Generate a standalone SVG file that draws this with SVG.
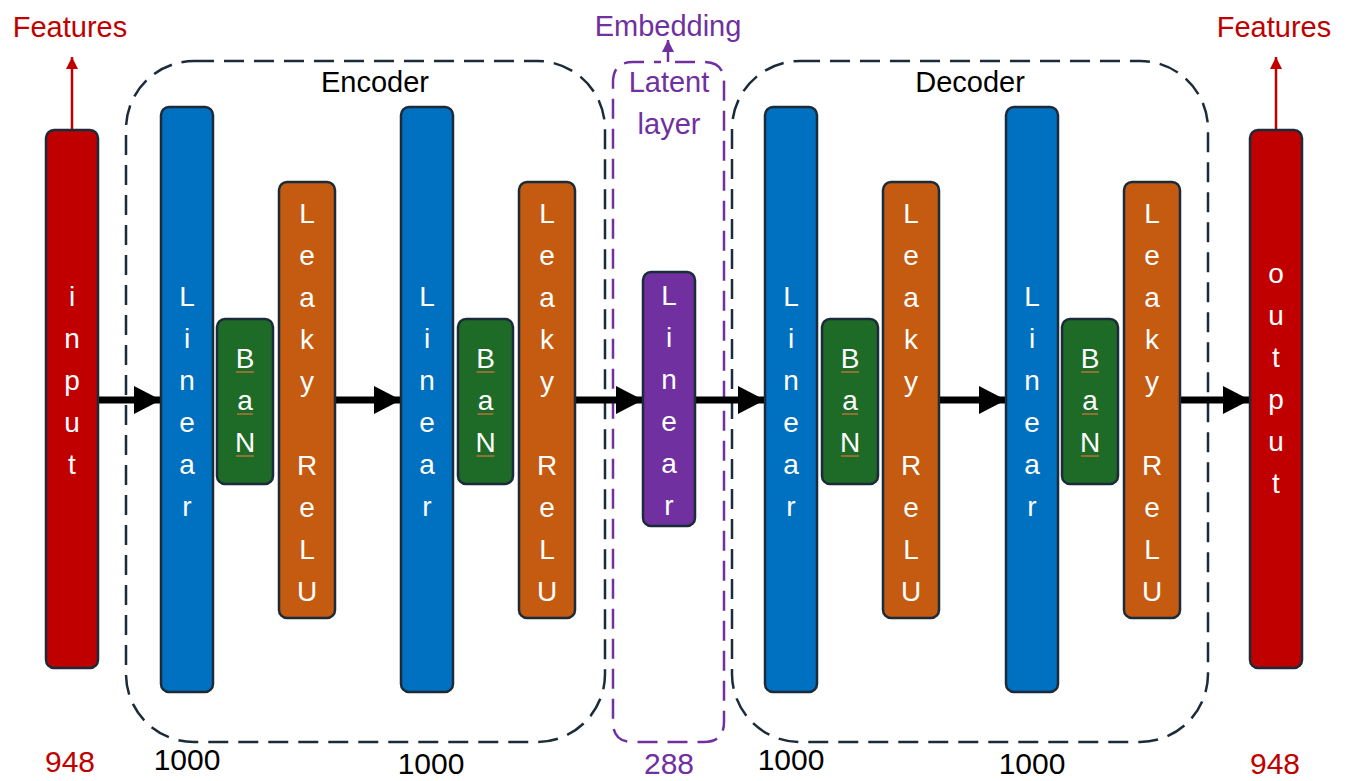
<svg xmlns="http://www.w3.org/2000/svg" width="1348" height="781" viewBox="0 0 1348 781">
<style>
text{font-family:"Liberation Sans",Arial,sans-serif;}
.n{stroke:#1b2b3a;stroke-width:2.5;}
.red{fill:#C00000}.blue{fill:#0070C0}.green{fill:#1E6B28}.orange{fill:#C55A11}.purple{fill:#7030A0}
.v{fill:#fff;font-size:28px;text-anchor:middle}
.lbl{font-size:29px;text-anchor:middle}
.num{font-size:30px;text-anchor:middle}
.grp{fill:none;stroke:#1b2b3a;stroke-width:2.5;stroke-dasharray:20 10}
.ul{stroke:#b8733a;stroke-width:1.5}
.arr{stroke:#000;stroke-width:7;fill:none}
</style>
<defs>
<marker id="ah" markerUnits="userSpaceOnUse" markerWidth="28" markerHeight="28" refX="27" refY="14" orient="auto"><path d="M0,0 L27,14 L0,28 Z" fill="#000"/></marker>
<marker id="ahr" markerUnits="userSpaceOnUse" markerWidth="12" markerHeight="12" refX="12" refY="6" orient="auto"><path d="M0,0 L12,6 L0,12 Z" fill="#C00000"/></marker>
<marker id="ahp" markerUnits="userSpaceOnUse" markerWidth="12" markerHeight="12" refX="12" refY="6" orient="auto"><path d="M0,0 L12,6 L0,12 Z" fill="#7030A0"/></marker>
</defs>

<g id="groups">
<rect id="encoder-box" class="grp" x="126" y="61" width="479" height="681" rx="68"/>
<rect id="decoder-box" class="grp" x="732" y="61" width="476" height="681" rx="68"/>
<path id="latent-box" d="M675,62 L704,62 Q724,62 724,82 L724,722 Q724,742 704,742 L633,742 Q613,742 613,722 L613,82 Q613,62 633,62 L661,62" fill="none" stroke="#7030A0" stroke-width="2.5" stroke-dasharray="20 10"/>
<text x="375" y="92" class="lbl" fill="#000">Encoder</text>
<text x="970" y="92" class="lbl" fill="#000">Decoder</text>
<text x="669" y="92" class="lbl" fill="#7030A0">Latent</text>
<text x="669" y="134" class="lbl" fill="#7030A0">layer</text>
</g>

<g id="connectors">
<line class="arr" x1="98" y1="400" x2="161" y2="400" marker-end="url(#ah)"/>
<line class="arr" x1="335" y1="400" x2="401" y2="400" marker-end="url(#ah)"/>
<line class="arr" x1="575" y1="400" x2="643" y2="400" marker-end="url(#ah)"/>
<line class="arr" x1="695" y1="400" x2="765" y2="400" marker-end="url(#ah)"/>
<line class="arr" x1="939" y1="400" x2="1006" y2="400" marker-end="url(#ah)"/>
<line class="arr" x1="1180" y1="400" x2="1250" y2="400" marker-end="url(#ah)"/>
<line x1="72" y1="130" x2="72" y2="57" stroke="#C00000" stroke-width="2.5" marker-end="url(#ahr)"/>
<line x1="1276" y1="130" x2="1276" y2="57" stroke="#C00000" stroke-width="2.5" marker-end="url(#ahr)"/>
<line x1="668" y1="62" x2="668" y2="40" stroke="#7030A0" stroke-width="2.5" marker-end="url(#ahp)"/>
</g>

<g id="input">
<rect class="n red" x="46" y="130" width="52" height="538" rx="8"/>
<text class="v"><tspan x="72" y="306">i</tspan><tspan x="72" y="348">n</tspan><tspan x="72" y="390">p</tspan><tspan x="72" y="432">u</tspan><tspan x="72" y="474">t</tspan></text>
</g>

<g id="enc-linear1">
<rect class="n blue" x="161" y="107" width="52" height="585" rx="8"/>
<text class="v"><tspan x="187" y="306">L</tspan><tspan x="187" y="348">i</tspan><tspan x="187" y="390">n</tspan><tspan x="187" y="432">e</tspan><tspan x="187" y="474">a</tspan><tspan x="187" y="516">r</tspan></text>
</g>
<g id="enc-ban1">
<rect class="n green" x="217" y="319" width="56" height="165" rx="8"/>
<text class="v"><tspan x="245" y="368">B</tspan><tspan x="245" y="410">a</tspan><tspan x="245" y="452">N</tspan></text>
<path class="ul" d="M236,372h18M237,414h16M236,456h18"/>
</g>
<g id="enc-relu1">
<rect class="n orange" x="279" y="182" width="56" height="436" rx="8"/>
<text class="v"><tspan x="307" y="223">L</tspan><tspan x="307" y="265">e</tspan><tspan x="307" y="307">a</tspan><tspan x="307" y="349">k</tspan><tspan x="307" y="391">y</tspan><tspan x="307" y="475">R</tspan><tspan x="307" y="517">e</tspan><tspan x="307" y="559">L</tspan><tspan x="307" y="601">U</tspan></text>
</g>

<g id="enc-linear2">
<rect class="n blue" x="401" y="107" width="52" height="585" rx="8"/>
<text class="v"><tspan x="427" y="306">L</tspan><tspan x="427" y="348">i</tspan><tspan x="427" y="390">n</tspan><tspan x="427" y="432">e</tspan><tspan x="427" y="474">a</tspan><tspan x="427" y="516">r</tspan></text>
</g>
<g id="enc-ban2">
<rect class="n green" x="458" y="319" width="55" height="165" rx="8"/>
<text class="v"><tspan x="485.5" y="368">B</tspan><tspan x="485.5" y="410">a</tspan><tspan x="485.5" y="452">N</tspan></text>
<path class="ul" d="M476.5,372h18M477.5,414h16M476.5,456h18"/>
</g>
<g id="enc-relu2">
<rect class="n orange" x="519" y="182" width="56" height="436" rx="8"/>
<text class="v"><tspan x="547" y="223">L</tspan><tspan x="547" y="265">e</tspan><tspan x="547" y="307">a</tspan><tspan x="547" y="349">k</tspan><tspan x="547" y="391">y</tspan><tspan x="547" y="475">R</tspan><tspan x="547" y="517">e</tspan><tspan x="547" y="559">L</tspan><tspan x="547" y="601">U</tspan></text>
</g>

<g id="latent-linear">
<rect class="n purple" x="643" y="272" width="52" height="254" rx="8"/>
<text class="v"><tspan x="669" y="305">L</tspan><tspan x="669" y="347">i</tspan><tspan x="669" y="389">n</tspan><tspan x="669" y="431">e</tspan><tspan x="669" y="473">a</tspan><tspan x="669" y="515">r</tspan></text>
</g>

<g id="dec-linear1">
<rect class="n blue" x="765" y="107" width="52" height="585" rx="8"/>
<text class="v"><tspan x="791" y="306">L</tspan><tspan x="791" y="348">i</tspan><tspan x="791" y="390">n</tspan><tspan x="791" y="432">e</tspan><tspan x="791" y="474">a</tspan><tspan x="791" y="516">r</tspan></text>
</g>
<g id="dec-ban1">
<rect class="n green" x="822" y="319" width="56" height="165" rx="8"/>
<text class="v"><tspan x="850" y="368">B</tspan><tspan x="850" y="410">a</tspan><tspan x="850" y="452">N</tspan></text>
<path class="ul" d="M841,372h18M842,414h16M841,456h18"/>
</g>
<g id="dec-relu1">
<rect class="n orange" x="883" y="182" width="56" height="436" rx="8"/>
<text class="v"><tspan x="911" y="223">L</tspan><tspan x="911" y="265">e</tspan><tspan x="911" y="307">a</tspan><tspan x="911" y="349">k</tspan><tspan x="911" y="391">y</tspan><tspan x="911" y="475">R</tspan><tspan x="911" y="517">e</tspan><tspan x="911" y="559">L</tspan><tspan x="911" y="601">U</tspan></text>
</g>

<g id="dec-linear2">
<rect class="n blue" x="1006" y="107" width="52" height="585" rx="8"/>
<text class="v"><tspan x="1032" y="306">L</tspan><tspan x="1032" y="348">i</tspan><tspan x="1032" y="390">n</tspan><tspan x="1032" y="432">e</tspan><tspan x="1032" y="474">a</tspan><tspan x="1032" y="516">r</tspan></text>
</g>
<g id="dec-ban2">
<rect class="n green" x="1062" y="319" width="56" height="165" rx="8"/>
<text class="v"><tspan x="1090" y="368">B</tspan><tspan x="1090" y="410">a</tspan><tspan x="1090" y="452">N</tspan></text>
<path class="ul" d="M1081,372h18M1082,414h16M1081,456h18"/>
</g>
<g id="dec-relu2">
<rect class="n orange" x="1124" y="182" width="56" height="436" rx="8"/>
<text class="v"><tspan x="1152" y="223">L</tspan><tspan x="1152" y="265">e</tspan><tspan x="1152" y="307">a</tspan><tspan x="1152" y="349">k</tspan><tspan x="1152" y="391">y</tspan><tspan x="1152" y="475">R</tspan><tspan x="1152" y="517">e</tspan><tspan x="1152" y="559">L</tspan><tspan x="1152" y="601">U</tspan></text>
</g>

<g id="output">
<rect class="n red" x="1250" y="130" width="52" height="538" rx="8"/>
<text class="v"><tspan x="1276" y="283">o</tspan><tspan x="1276" y="325">u</tspan><tspan x="1276" y="367">t</tspan><tspan x="1276" y="409">p</tspan><tspan x="1276" y="451">u</tspan><tspan x="1276" y="493">t</tspan></text>
</g>

<g id="labels">
<text x="70" y="37" class="lbl" fill="#C00000">Features</text>
<text x="1274" y="37" class="lbl" fill="#C00000">Features</text>
<text x="668" y="36" class="lbl" fill="#7030A0">Embedding</text>
<text x="70" y="772" class="num" fill="#C00000">948</text>
<text x="187" y="770" class="num" fill="#000">1000</text>
<text x="431" y="774" class="num" fill="#000">1000</text>
<text x="669" y="774" class="num" fill="#7030A0">288</text>
<text x="791" y="770" class="num" fill="#000">1000</text>
<text x="1032" y="774" class="num" fill="#000">1000</text>
<text x="1275" y="774" class="num" fill="#C00000">948</text>
</g>
</svg>
